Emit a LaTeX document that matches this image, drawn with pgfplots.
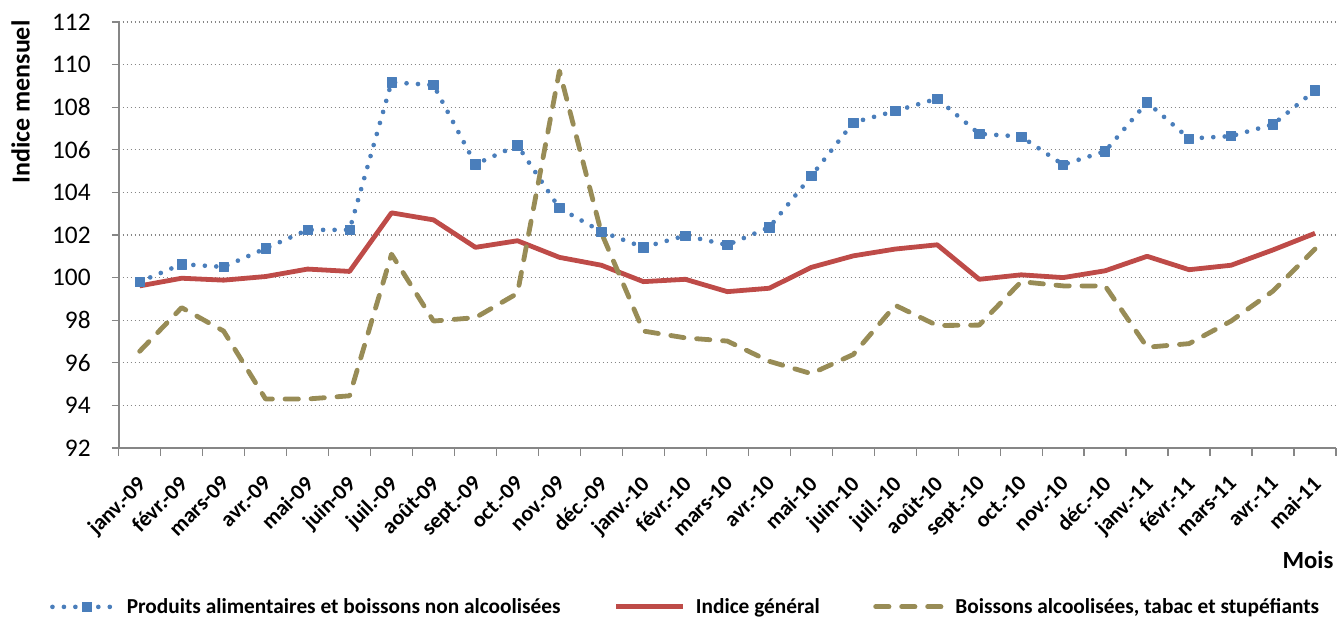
\documentclass[border=0pt]{standalone}
\usepackage{fontspec}
\setmainfont{Carlito}
\usepackage{pgfplots}
\usepackage{pgfplotstable}
\pgfplotsset{compat=1.18}
\definecolor{cblue}{RGB}{74,126,187}
\definecolor{cred}{RGB}{190,75,72}
\definecolor{colive}{RGB}{152,140,86}
\definecolor{cgrid}{RGB}{134,134,134}
\pgfplotsset{
  bluelegend/.style={legend image code/.code={\draw[##1, mark repeat=2, mark phase=2] plot coordinates {(0pt,0pt) (26pt,0pt) (46pt,0pt)};}},
  linelegend/.style={legend image code/.code={\draw[##1] (0pt,0pt) -- (50pt,0pt);}},
}
\pgfplotstableread{
x a g b
0 99.80 99.61 96.54
1 100.63 99.97 98.59
2 100.50 99.88 97.49
3 101.37 100.05 94.30
4 102.24 100.40 94.30
5 102.24 100.29 94.45
6 109.17 103.04 101.10
7 109.04 102.71 97.96
8 105.32 101.42 98.12
9 106.21 101.73 99.26
10 103.26 100.95 109.70
11 102.16 100.58 102.10
12 101.42 99.81 97.49
13 101.97 99.92 97.17
14 101.53 99.34 97.02
15 102.36 99.50 96.07
16 104.77 100.48 95.49
17 107.28 101.02 96.39
18 107.82 101.34 98.70
19 108.40 101.54 97.75
20 106.75 99.92 97.77
21 106.62 100.13 99.81
22 105.30 100.00 99.61
23 105.93 100.32 99.61
24 108.23 101.00 96.73
25 106.53 100.37 96.90
26 106.64 100.58 97.96
27 107.19 101.30 99.37
28 108.79 102.08 101.34
}\datatable
\begin{document}
\begin{tikzpicture}
\path[use as bounding box] (0,0) rectangle (1003.5pt,465pt);
\begin{axis}[
  at={(89pt,129pt)}, anchor=south west,
  scale only axis, width=913pt, height=319.5pt,
  xmin=-0.5, xmax=28.5, ymin=92, ymax=112,
  ytick={92,94,...,112},
  xtick={0,...,28},
  xticklabels={janv.-09,févr.-09,mars-09,avr.-09,mai-09,juin-09,juil.-09,août-09,sept.-09,oct.-09,nov.-09,déc.-09,janv.-10,févr.-10,mars-10,avr.-10,mai-10,juin-10,juil.-10,août-10,sept.-10,oct.-10,nov.-10,déc.-10,janv.-11,févr.-11,mars-11,avr.-11,mai-11},
  minor xtick={-0.5,0.5,...,28.5},
  major x tick style={draw=none},
  axis lines*=left,
  axis line style={cgrid, line width=1.3pt},
  tick align=outside,
  major tick length=5pt, minor tick length=6pt,
  tick style={cgrid, line width=1pt},
  ymajorgrids,
  grid style={cgrid, line width=1pt, dash pattern=on 1.2pt off 1.8pt},
  /pgf/number format/assume math mode=true,
  yticklabel style={font=\fontsize{19}{19}\selectfont, xshift=-12.5pt},
  xticklabel style={rotate=45, anchor=north east, font=\bfseries\fontsize{16.5}{16.5}\selectfont, inner sep=1pt, xshift=-11.5pt, yshift=-7.5pt},
  ylabel={Indice mensuel},
  ylabel style={at={(axis description cs:-0.0806,0.812)}, anchor=center, rotate=0, font=\bfseries\fontsize{19.5}{19.5}\selectfont},
  xlabel={Mois},
  xlabel style={at={(axis description cs:0.977,-0.263)}, anchor=center, font=\bfseries\fontsize{18.5}{18.5}\selectfont},
  legend columns=3,
  legend style={at={(axis description cs:0.466,-0.373)}, anchor=center, draw=none, fill=none,
    font=\bfseries\fontsize{16}{16}\selectfont,
    /tikz/every odd column/.append style={column sep=6pt},
    /tikz/every even column/.append style={column sep=38pt}},
  clip=false,
]
\addplot[cblue, line width=3.5pt, dash pattern=on 0pt off 8.6pt, line cap=round, line join=round,
  mark=square*, mark size=3.5pt, mark options={solid, fill=cblue, draw=cblue, line width=0.5pt}, bluelegend]
  table[x=x, y=a] {\datatable};
\addlegendentry{Produits alimentaires et boissons non alcoolisées}
\addplot[cred, line width=3.6pt, line join=round, linelegend]
  table[x=x, y=g] {\datatable};
\addlegendentry{Indice général}
\addplot[colive, line width=3.6pt, dash pattern=on 10pt off 9.5pt, line cap=round, line join=round, linelegend]
  table[x=x, y=b] {\datatable};
\addlegendentry{Boissons alcoolisées, tabac et stupéfiants}
\end{axis}
\end{tikzpicture}
\end{document}
